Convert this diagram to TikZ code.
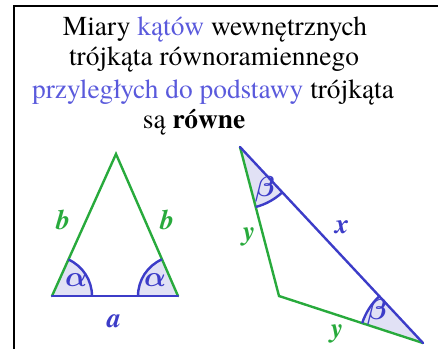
\RequirePackage{fix-cm}
\documentclass[tikz,border=0pt]{standalone}
\usepackage{amsmath}
\usepackage{fontspec}
\setmainfont{texgyretermes}[Extension=.otf, UprightFont=*-regular, BoldFont=*-bold, ItalicFont=*-italic, BoldItalicFont=*-bolditalic]
\usetikzlibrary{angles}
\definecolor{tblue}{RGB}{90,90,220}
\definecolor{lblue}{RGB}{60,60,200}
\definecolor{lgreen}{RGB}{40,170,60}
\definecolor{afill}{RGB}{225,225,245}
\tikzset{
  title/.style={anchor=base, font=\fontsize{27.5}{30}\selectfont, inner sep=0pt},
  lbl/.style={font=\fontsize{28}{30}\selectfont\bfseries\itshape, inner sep=0pt},
  glbl/.style={font=\fontsize{29}{31}\selectfont, inner sep=0pt},
  side/.style={line width=2.4bp, line cap=round},
}
\begin{document}
\begin{tikzpicture}[x=1bp,y=1bp]
\useasboundingbox (0,0) rectangle (438,349);
\draw[line width=1.6bp] (438,343) -- (14,343) -- (14,0);
% title
\node[title] (t1) at (215,314) {Miary \textcolor{tblue}{kątów} wewnętrznych};
\node[title] (t2) at (214,284) {trójkąta równoramiennego};
\node[title] (t3) at (213,251) {\textcolor{tblue}{przyległych do podstawy} trójkąta};
\node[title] (t4) at (194,221) {są \textbf{równe}};
% left triangle
\coordinate (A) at (52,53);
\coordinate (B) at (178,53);
\coordinate (C) at (116,195);
\pic[fill=afill, angle radius=40bp] {angle = B--A--C};
\pic[fill=afill, angle radius=40bp] {angle = C--B--A};
\draw[side, lgreen] (A) -- (C) -- (B);
\draw[side, lblue] (A) -- (B);
\pic[draw=lblue, line width=2.4bp, angle radius=40bp] {angle = B--A--C};
\pic[draw=lblue, line width=2.4bp, angle radius=40bp] {angle = C--B--A};
\node[lbl, lgreen] (bl) at (63,129) {b};
\node[lbl, lgreen] (br) at (167,129) {b};
\node[glbl, lblue] (al1) at (76,69) {$\boldsymbol{\alpha}$};
\node[glbl, lblue] (al2) at (155,69) {$\boldsymbol{\alpha}$};
\node[lbl, lblue] (la) at (114,28) {a};
% right triangle
\coordinate (P) at (240,202);
\coordinate (Q) at (279,53);
\coordinate (R) at (423,6);
\pic[fill=afill, angle radius=62bp] {angle = Q--P--R};
\pic[fill=afill, angle radius=64bp] {angle = P--R--Q};
\draw[side, lgreen] (P) -- (Q) -- (R);
\draw[side, lblue] (P) -- (R);
\pic[draw=lblue, line width=2.4bp, angle radius=62bp] {angle = Q--P--R};
\pic[draw=lblue, line width=2.4bp, angle radius=64bp] {angle = P--R--Q};
\node[glbl, lblue] (b1) at (265,160) {$\boldsymbol{\beta}$};
\node[glbl, lblue] (b2) at (377,37) {$\boldsymbol{\beta}$};
\node[lbl, lblue] (lx) at (342,122) {x};
\node[lbl, lgreen] (y1) at (249,112) {y};
\node[lbl, lgreen] (y2) at (337,15) {y};
\end{tikzpicture}
\end{document}
